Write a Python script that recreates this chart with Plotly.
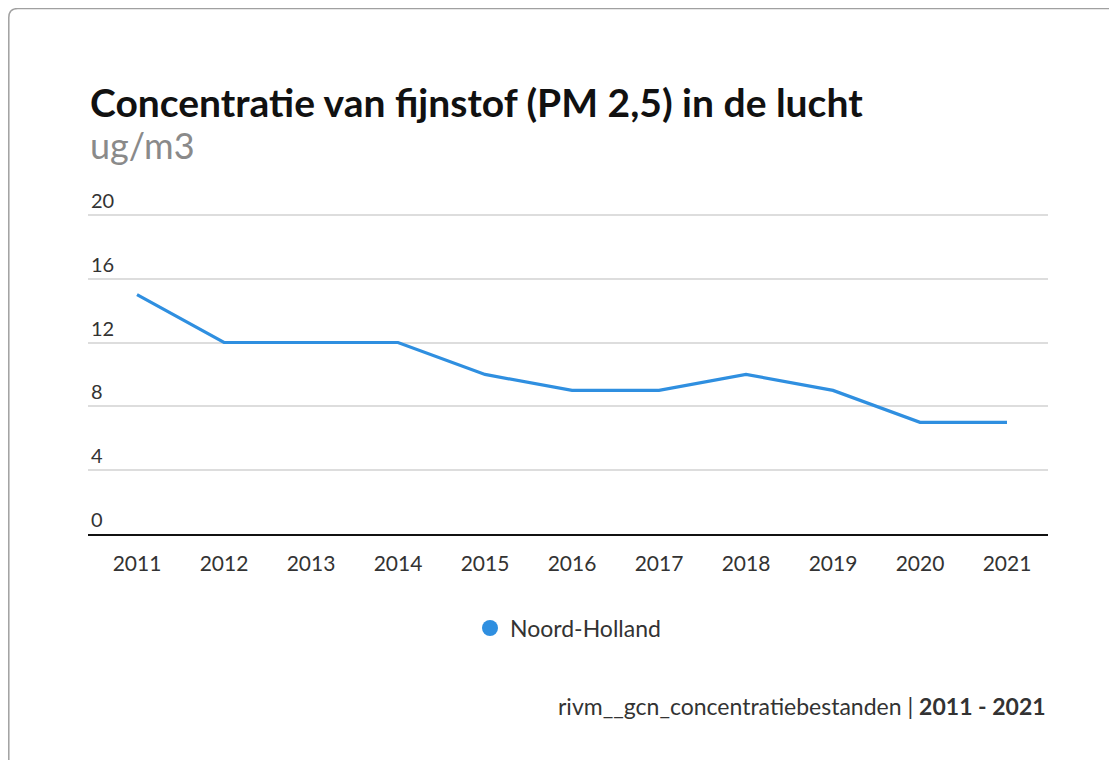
import plotly.graph_objects as go

years = ["2011", "2012", "2013", "2014", "2015", "2016", "2017", "2018", "2019", "2020", "2021"]
values = [15, 12, 12, 12, 10, 9, 9, 10, 9, 7, 7]
series_name = "Noord-Holland"
y_ticks = [0, 4, 8, 12, 16, 20]
title = "Concentratie van fijnstof (PM 2,5) in de lucht"
subtitle = "ug/m3"
source = "rivm__gcn_concentratiebestanden"
period = "2011 - 2021"

OFF = 8  # page body margin
W, H = 1117, 760
UNIT = 15.95
B = 534 - OFF
YMAX = 23.5
T = B - YMAX * UNIT
L, R = 88 - OFF, 1048 - OFF
pw, ph = R - L, B - T

def px(x):
    return (x - OFF - L) / pw

def py(y):
    return (B - (y - OFF)) / ph

FONT = "Lato, 'Source Sans Pro', 'Open Sans', sans-serif"
BLUE = "#2f8fe0"

fig = go.Figure()
fig.add_trace(go.Scatter(
    x=list(range(len(years))), y=values, mode="lines",
    line=dict(color=BLUE, width=3.2), showlegend=False,
    hoverinfo="x+y"))
fig.add_trace(go.Scatter(
    x=[None], y=[None], mode="markers", name=series_name,
    marker=dict(color=BLUE, size=20, symbol="circle")))

e = OFF + 0.8
border = (f"M {px(e)} {py(800)} L {px(e)} {py(e + 9)} "
          f"Q {px(e)} {py(e)} {px(e + 9)} {py(e)} L {px(1200)} {py(e)}")

fig.update_layout(
    width=W, height=H,
    margin=dict(l=L, r=W - R, t=T, b=H - B),
    paper_bgcolor="white", plot_bgcolor="white",
    font=dict(family=FONT, color="#333333", size=21),
    xaxis=dict(
        tickmode="array", tickvals=list(range(len(years))), ticktext=years,
        range=[-49 / 87, 10 + 41 / 87], showgrid=False, zeroline=False,
        showline=True, linecolor="#111111", linewidth=2, ticks="",
        ticklabelstandoff=10, tickfont=dict(size=21, color="#333333"),
    ),
    yaxis=dict(
        range=[0, YMAX], tickvals=y_ticks, showgrid=True, gridcolor="#dddddd",
        gridwidth=1.5, zeroline=False, showline=False, ticks="",
        ticklabelposition="inside top", tickfont=dict(size=20, color="#333333"),
    ),
    legend=dict(orientation="h", x=0.5, xanchor="center", y=py(628), yanchor="middle",
                font=dict(size=23, color="#333333"), itemsizing="trace"),
    shapes=[dict(type="path", path=border, xref="paper", yref="paper",
                 line=dict(color="#a0a0a0", width=1.5), layer="below")],
    annotations=[
        dict(text=f"<b>{title}</b>", xref="paper", yref="paper", x=0, y=py(102),
             xanchor="left", yanchor="middle", showarrow=False,
             font=dict(size=39, color="#111111", family=FONT)),
        dict(text=subtitle, xref="paper", yref="paper", x=0, y=py(145),
             xanchor="left", yanchor="middle", showarrow=False,
             font=dict(size=36, color="#8a8a8a", family=FONT)),
        dict(text=f"{source} | <b>{period}</b>", xref="paper", yref="paper", x=1, y=py(706),
             xanchor="right", yanchor="middle", showarrow=False,
             font=dict(size=23, color="#333333", family=FONT)),
    ],
)

fig.write_html("out.html")
